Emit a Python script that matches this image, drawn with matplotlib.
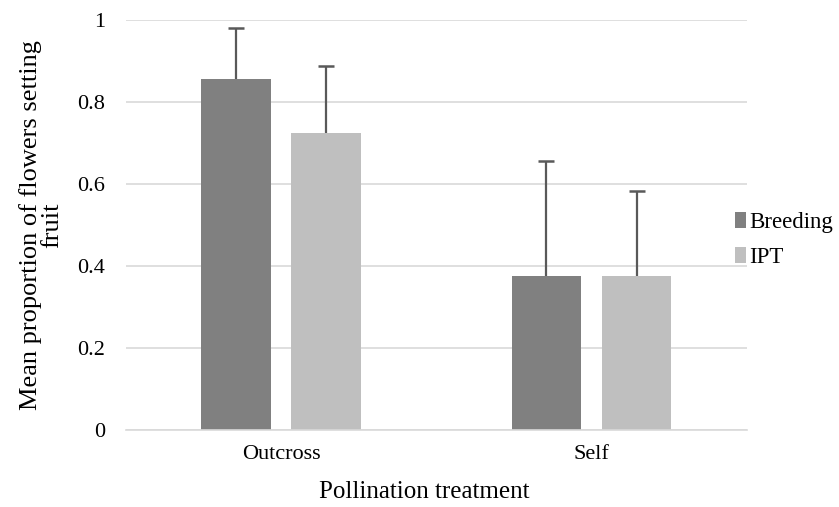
import numpy as np
import matplotlib.pyplot as plt

plt.rcParams['font.family'] = ['Liberation Serif', 'DejaVu Serif']

categories = ['Outcross', 'Self']
breeding = [0.857, 0.375]
ipt = [0.725, 0.375]
breeding_err = [0.123, 0.281]
ipt_err = [0.162, 0.208]

fig = plt.figure(figsize=(8.39, 5.07), dpi=100)
ax = fig.add_axes([0.150, 0.152, 0.740, 0.8086])

x = np.arange(len(categories))
w = 0.225
off = 0.145

# bars
ax.bar(x - off, breeding, w, color='#808080', label='Breeding', zorder=2)
ax.bar(x + off, ipt, w, color='#BFBFBF', label='IPT', zorder=2)

# upper-only error bars with a cap on top
for xs, vals, errs in [(x - off, breeding, breeding_err), (x + off, ipt, ipt_err)]:
    tops = np.array(vals) + np.array(errs)
    ax.vlines(xs, vals, tops, color='#595959', linewidth=1.6, zorder=3)
    ax.plot(xs, tops, ls='none', marker='_', ms=12, mew=1.8, color='#595959', zorder=3)

ax.set_xlim(-0.5, 1.5)
ax.set_ylim(0, 1)
ax.set_yticks([0, 0.2, 0.4, 0.6, 0.8, 1.0])
ax.set_yticklabels(['0', '0.2', '0.4', '0.6', '0.8', '1'])
ax.set_xticks(x)
ax.set_xticklabels(categories)
ax.tick_params(length=0, labelsize=16, pad=11)
ax.tick_params(axis='y', pad=15)
ax.yaxis.grid(True, color='#D9D9D9', linewidth=1.2, zorder=0)
ax.set_axisbelow(True)
for s in ['top', 'right', 'left']:
    ax.spines[s].set_visible(False)
ax.spines['bottom'].set_color('#D9D9D9')
ax.spines['bottom'].set_linewidth(1.2)

ax.set_xlabel('Pollination treatment', fontsize=18, labelpad=13)
ax.xaxis.set_label_coords(0.48, -0.125)
ax.set_ylabel('Mean proportion of flowers setting\nfruit', fontsize=19,
              labelpad=10, linespacing=0.95)

ax.legend(loc='center left', bbox_to_anchor=(0.962, 0.464), frameon=False,
          fontsize=16.5, handlelength=0.5, handleheight=0.7,
          handletextpad=0.15, labelspacing=0.6, borderpad=0)

fig.savefig('out.png', dpi=100)
